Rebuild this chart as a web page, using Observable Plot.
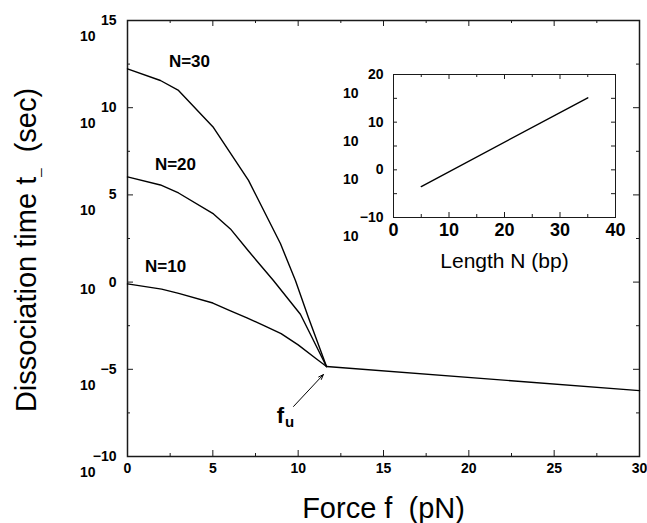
<!DOCTYPE html>
<html><head><meta charset="utf-8">
<script src="https://cdn.jsdelivr.net/npm/d3@7"></script>
<script src="https://cdn.jsdelivr.net/npm/@observablehq/plot@0.6"></script>
<style>
body{margin:0;background:#fff;}
#wrap{position:relative;width:647px;height:523px;overflow:hidden;background:#fff;font-family:"Liberation Sans",Arial,Helvetica,sans-serif;}
#inset{position:absolute;left:340px;top:50px;}
svg text{white-space:pre;}
</style></head><body><div id="wrap"><div id="main"></div><div id="inset"></div></div>
<script>
// ---- data (y values are log10 of dissociation time in seconds) ----
const force_N10 = [0, 2, 3, 5, 6, 7, 8, 9, 10, 11, 11.66];
const logt_N10  = [-0.1, -0.4, -0.65, -1.2, -1.63, -2.05, -2.5, -2.95, -3.6, -4.35, -4.84];
const force_N20 = [0, 1.93, 2.99, 5.04, 6.03, 7.09, 8.55, 10.13, 11.66];
const logt_N20  = [6.03, 5.57, 5.11, 3.91, 3.05, 1.78, 0.09, -1.84, -4.84];
const force_N30 = [0, 1.93, 2.99, 5.04, 7.09, 8.96, 9.84, 10.6, 11.66];
const logt_N30  = [12.23, 11.56, 10.99, 8.86, 5.83, 2.21, 0.09, -2.03, -4.84];
const force_tail = [11.66, 30];
const logt_tail  = [-4.84, -6.22];

const inset_N    = [5, 35];
const inset_logt = [-3.5, 15.1];

const curveNames = ["N=30", "N=20", "N=10"];
const curveNameForce = [3.63, 2.81, 2.23];
const curveNameLogt  = [12.65, 6.74, 0.89];

const xTicksMain = [0, 5, 10, 15, 20, 25, 30];
const xMinorMain = [2.5, 7.5, 12.5, 17.5, 22.5, 27.5];
const yTicksMain = [-10, -5, 0, 5, 10, 15];
const yMinorMain = [-7.5, -2.5, 2.5, 7.5, 12.5];

const xTicksInset = [0, 10, 20, 30, 40];
const xMinorInset = [5, 15, 25, 35];
const yTicksInset = [-5, 0, 5, 10, 15];
const yLabelsInset = [20, 10, 0, -10];

// annotation f_u
const fuArrow = {x1: 9.73, y1: -7.13, x2: 11.48, y2: -5.3};
const fuText = {x: 8.96, y: -7.65};
const fuSub = {x: 9.49, y: -8.05};

// ---- helpers ----
const FONT = '"Liberation Sans", Arial, Helvetica, sans-serif';
const rows = (xs, ys) => xs.map((x, i) => ({x, y: ys[i]}));
const expText = d => d < 0 ? "\u2212" + (-d) : String(d);

// ---- main chart ----
const W = 647, H = 523, mL = 127, mR = 8, mT = 20, mB = 67;
const fw = W - mL - mR, fh = H - mT - mB;
const ink = "#1a1a1a";

const main = Plot.plot({
  width: W, height: H,
  marginLeft: mL, marginRight: mR, marginTop: mT, marginBottom: mB,
  x: {domain: [0, 30], axis: null},
  y: {domain: [-10, 15], axis: null},
  style: {fontFamily: FONT, background: "white", color: ink, overflow: "visible"},
  marks: [
    // inward ticks on all four sides
    Plot.tickX(xTicksMain, {x: d => d, insetTop: fh - 6, stroke: ink}),
    Plot.tickX(xTicksMain, {x: d => d, insetBottom: fh - 6, stroke: ink}),
    Plot.tickX(xMinorMain, {x: d => d, insetTop: fh - 3, stroke: ink}),
    Plot.tickX(xMinorMain, {x: d => d, insetBottom: fh - 3, stroke: ink}),
    Plot.tickY(yTicksMain, {y: d => d, insetRight: fw - 6, stroke: ink}),
    Plot.tickY(yTicksMain, {y: d => d, insetLeft: fw - 6, stroke: ink}),
    Plot.tickY(yMinorMain, {y: d => d, insetRight: fw - 3, stroke: ink}),
    Plot.tickY(yMinorMain, {y: d => d, insetLeft: fw - 3, stroke: ink}),
    Plot.frame({stroke: ink, strokeWidth: 1.5}),
    // curves
    Plot.line(rows(force_N10, logt_N10), {x: "x", y: "y", stroke: "black", strokeWidth: 1.4}),
    Plot.line(rows(force_N20, logt_N20), {x: "x", y: "y", stroke: "black", strokeWidth: 1.4}),
    Plot.line(rows(force_N30, logt_N30), {x: "x", y: "y", stroke: "black", strokeWidth: 1.4}),
    Plot.line(rows(force_tail, logt_tail), {x: "x", y: "y", stroke: "black", strokeWidth: 1.4}),
    // curve labels
    Plot.text(curveNames, {x: (d, i) => curveNameForce[i], y: (d, i) => curveNameLogt[i], text: d => d,
      fontWeight: "bold", fontSize: 17, fill: "black"}),
    // x tick labels
    Plot.text(xTicksMain, {x: d => d, frameAnchor: "bottom", dy: 16, text: d => String(d),
      fontWeight: "bold", fontSize: 14, fill: "black"}),
    // y tick labels: exponent + base 10
    Plot.text(yTicksMain, {y: d => d, frameAnchor: "left", dx: -11, textAnchor: "end", text: expText,
      fontWeight: "bold", fontSize: 14, fill: "black"}),
    Plot.text(yTicksMain.filter(d => d !== 0), {y: d => d, frameAnchor: "left", dx: -32, dy: 16, textAnchor: "end",
      text: () => "10", fontWeight: "bold", fontSize: 14, fill: "black"}),
    Plot.text(yTicksMain.filter(d => d === 0), {y: d => d, frameAnchor: "left", dx: -32, dy: 7, textAnchor: "end",
      text: () => "10", fontWeight: "bold", fontSize: 14, fill: "black"}),
    // f_u annotation
    Plot.arrow([fuArrow], {x1: "x1", y1: "y1", x2: "x2", y2: "y2", stroke: "black", strokeWidth: 1,
      headLength: 8, headAngle: 40}),
    Plot.text([fuText], {x: "x", y: "y", text: () => "f", fontWeight: "bold", fontSize: 22, fill: "black"}),
    Plot.text([fuSub], {x: "x", y: "y", text: () => "u", fontWeight: "bold", fontSize: 15, fill: "black"}),
    // x axis title
    Plot.text(["Force f  (pN)"], {frameAnchor: "bottom", lineAnchor: "bottom", dy: 61, text: d => d,
      fontSize: 29, fill: "black"})
  ]
});
document.getElementById("main").appendChild(main);

// y axis title with subscript
{
  const t = d3.select(main).append("text")
    .attr("transform", "translate(36,250) rotate(-90)")
    .attr("text-anchor", "middle")
    .attr("font-family", FONT)
    .attr("font-size", 29)
    .attr("fill", "black");
  t.append("tspan").text("Dissociation time t");
  t.append("tspan").attr("font-size", 15).attr("dy", 3).text("_");
  t.append("tspan").attr("dy", -3).text("  (sec)");
}

// ---- inset ----
const IW = 285, IH = 230, iL = 53, iR = 10, iT = 24, iB = 63;
const ifw = IW - iL - iR, ifh = IH - iT - iB;
const inset = Plot.plot({
  width: IW, height: IH,
  marginLeft: iL, marginRight: iR, marginTop: iT, marginBottom: iB,
  x: {domain: [0, 40], axis: null},
  y: {domain: [-10, 20], axis: null},
  style: {fontFamily: FONT, background: "transparent", color: ink, overflow: "visible"},
  marks: [
    Plot.tickX(xTicksInset, {x: d => d, insetTop: ifh - 5, stroke: ink}),
    Plot.tickX(xTicksInset, {x: d => d, insetBottom: ifh - 5, stroke: ink}),
    Plot.tickX(xMinorInset, {x: d => d, insetTop: ifh - 3, stroke: ink}),
    Plot.tickX(xMinorInset, {x: d => d, insetBottom: ifh - 3, stroke: ink}),
    Plot.tickY(yTicksInset, {y: d => d, insetRight: ifw - 4, stroke: ink}),
    Plot.tickY(yTicksInset, {y: d => d, insetLeft: ifw - 4, stroke: ink}),
    Plot.frame({stroke: ink, strokeWidth: 1}),
    Plot.line(rows(inset_N, inset_logt), {x: "x", y: "y", stroke: "black", strokeWidth: 1.4}),
    Plot.text(xTicksInset, {x: d => d, frameAnchor: "bottom", dy: 18, text: d => String(d),
      fontWeight: "bold", fontSize: 18, fill: "black"}),
    Plot.text(yLabelsInset, {y: d => d, frameAnchor: "left", dx: -10, textAnchor: "end", text: expText,
      fontWeight: "bold", fontSize: 14, fill: "black"}),
    Plot.text(yLabelsInset.filter(d => d !== 0), {y: d => d, frameAnchor: "left", dx: -35, dy: 19, textAnchor: "end",
      text: () => "10", fontWeight: "bold", fontSize: 14, fill: "black"}),
    Plot.text(yLabelsInset.filter(d => d === 0), {y: d => d, frameAnchor: "left", dx: -35, dy: 10, textAnchor: "end",
      text: () => "10", fontWeight: "bold", fontSize: 14, fill: "black"}),
    Plot.text(["Length N (bp)"], {frameAnchor: "bottom", lineAnchor: "bottom", dy: 50, text: d => d,
      fontSize: 21, fill: "black"})
  ]
});
document.getElementById("inset").appendChild(inset);
</script>
</body></html>
